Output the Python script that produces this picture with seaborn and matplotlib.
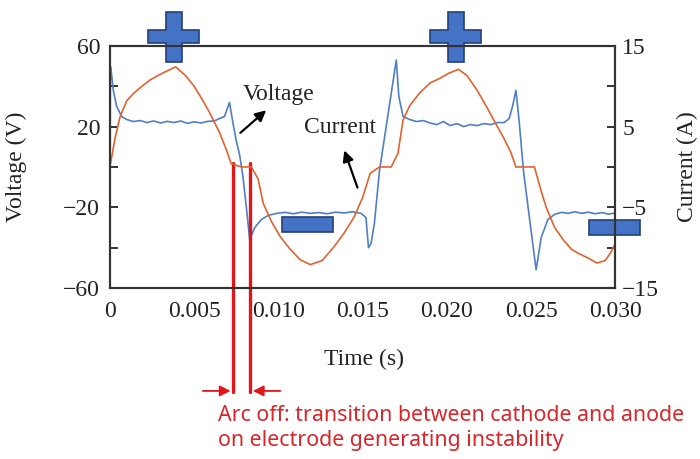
import numpy as np
import pandas as pd
import matplotlib
matplotlib.use("Agg")
import matplotlib.pyplot as plt
from matplotlib.patches import Polygon, Rectangle
import seaborn as sns

# Voltage trace (left axis, V)
time_v = [0, 0.00003, 0.0001, 0.0002, 0.0004, 0.0007, 0.001, 0.0014, 0.0018, 0.0022,
          0.0026, 0.003, 0.0034, 0.0038, 0.0042, 0.0046, 0.005, 0.0054, 0.0058, 0.0062,
          0.0065, 0.0068, 0.0071, 0.0073, 0.0075, 0.0077, 0.0079, 0.0081, 0.0083, 0.0086,
          0.009, 0.0094, 0.0099, 0.0104, 0.0109, 0.0114, 0.0119, 0.0124, 0.0129, 0.0134,
          0.0139, 0.0144, 0.0149, 0.0152, 0.01535, 0.0155, 0.0157, 0.016, 0.0164, 0.0168,
          0.017, 0.01715, 0.0174, 0.0178, 0.0182, 0.0186, 0.019, 0.0194, 0.0198, 0.0202,
          0.0206, 0.021, 0.0214, 0.0218, 0.0222, 0.0226, 0.023, 0.0234, 0.0237, 0.0239,
          0.0241, 0.0243, 0.02455, 0.0249, 0.0253, 0.0256, 0.026, 0.0264, 0.0268, 0.0272,
          0.0276, 0.028, 0.0284, 0.0288, 0.0292, 0.0296, 0.03]
voltage = [-55, 50, 46, 38, 30, 25, 23.5, 22.5, 23, 22,
           22.8, 21.8, 22.6, 22, 22.8, 21.6, 22.4, 21.8, 22.6, 22.8,
           24, 25, 32, 22, 13, 6, -5, -20, -36, -30,
           -26, -24, -23, -22.5, -23.2, -22.4, -23, -22.6, -23.2, -22.4,
           -22.8, -22.2, -23, -25, -40, -38, -28, -2, 20, 42,
           53, 35, 25, 23.5, 22.5, 23, 21.8, 21, 22.5, 20.5,
           21.5, 20, 21, 20.5, 21.5, 21, 22, 22, 24, 30,
           38, 22, -2, -25, -51, -35, -26, -23.5, -22.5, -23,
           -22.2, -23, -22.4, -23.2, -22.6, -23.4, -22.8]

# Current trace (right axis, A)
time_i = [0, 0.0003, 0.0006, 0.001, 0.0014, 0.0019, 0.0024, 0.0031, 0.0039, 0.0045,
          0.005, 0.0055, 0.006, 0.0065, 0.0069, 0.0072, 0.0078, 0.0084, 0.0088, 0.0091,
          0.0096, 0.0101, 0.0107, 0.0113, 0.0119, 0.0126, 0.0133, 0.0139, 0.0145, 0.015,
          0.01545, 0.016, 0.0167, 0.0171, 0.0174, 0.0178, 0.0184, 0.019, 0.0196, 0.0201,
          0.0207, 0.0212, 0.0218, 0.0224, 0.023, 0.0234, 0.0238, 0.0241, 0.0247, 0.0252,
          0.0256, 0.0259, 0.0264, 0.0269, 0.0274, 0.0278, 0.0284, 0.0289, 0.0294, 0.0297,
          0.03]
current = [0, 3.5, 6.2, 8.2, 9.1, 10.0, 10.8, 11.6, 12.4, 11.3,
           10.0, 8.3, 6.4, 4.3, 2.2, 0.4, 0, 0, -1.5, -4.5,
           -6.8, -8.6, -10.2, -11.5, -12.1, -11.6, -9.9, -8.2, -6.2, -3.8,
           -0.8, 0, 0, 1.7, 5.8, 7.6, 9.2, 10.4, 11.0, 11.6,
           12.1, 11.3, 9.5, 7.3, 5.0, 3.5, 1.8, 0, 0, 0,
           -3.0, -5.0, -7.5, -9.0, -10.2, -10.7, -11.3, -11.9, -11.6, -10.7,
           -9.5]

x_ticks = [0, 0.005, 0.010, 0.015, 0.020, 0.025, 0.030]
x_labels = ["0", "0.005", "0.010", "0.015", "0.020", "0.025", "0.030"]
v_ticks = [-60, -40, -20, 0, 20, 40, 60]
v_labels = ["\u221260", "", "\u221220", "", "20", "", "60"]
i_ticks = [-15, -10, -5, 0, 5, 10, 15]
i_labels = ["\u221215", "", "\u22125", "", "5", "", "15"]

df_v = pd.DataFrame({"t": time_v, "V": voltage})
df_i = pd.DataFrame({"t": time_i, "I": current})

sns.set_style("white")
plt.rcParams["font.family"] = ["Liberation Serif", "DejaVu Serif"]

BLUE = "#4F7FC4"
ORANGE = "#E2622E"
RED = "#E3151B"
SHAPE = "#4472C4"
SHAPE_EDGE = "#24407A"
FS = 17

fig = plt.figure(figsize=(7, 4.59), dpi=100)
ax = fig.add_axes([0.157, 0.3725, 0.722, 0.5275])
ax2 = ax.twinx()

sns.lineplot(data=df_v, x="t", y="V", ax=ax, color=BLUE, lw=1.2, estimator=None, sort=False)
sns.lineplot(data=df_i, x="t", y="I", ax=ax2, color=ORANGE, lw=1.2, estimator=None, sort=False)

ax.set_xlim(0, 0.030)
ax.set_ylim(-60, 60)
ax2.set_ylim(-15, 15)
ax.set_xticks(x_ticks)
ax.set_xticklabels(x_labels, fontsize=FS)
ax.set_yticks(v_ticks)
ax.set_yticklabels(v_labels, fontsize=FS)
ax2.set_yticks(i_ticks)
ax2.set_yticklabels(i_labels, fontsize=FS)

ax.tick_params(axis="x", direction="in", length=6, width=1.3, pad=9, colors="#222222")
ax.tick_params(axis="y", direction="in", length=6, width=1.3, pad=7, colors="#222222")
ax2.tick_params(axis="y", direction="in", length=6, width=1.3, pad=5, colors="#222222")
for a in (ax, ax2):
    for s in a.spines.values():
        s.set_color("#333333")
        s.set_linewidth(1.5)

ax.set_xlabel("Time (s)", fontsize=FS, color="#222222")
ax.set_ylabel("Voltage (V)", fontsize=FS, color="#222222")
ax2.set_ylabel("Current (A)", fontsize=FS, color="#222222")
ax.xaxis.set_label_coords(0.503, -0.25)
ax.yaxis.set_label_coords(-0.164, 0.5)
ax2.yaxis.set_label_coords(1.122, 0.5)

# annotations
ax.annotate("", xy=(0.0094, 29), xytext=(0.00762, 16),
            arrowprops=dict(arrowstyle="-|>", color="black", lw=1.6, mutation_scale=16))
ax.text(0.0100, 36, "Voltage", fontsize=FS, ha="center", va="center", color="#222222")
ax.annotate("", xy=(0.01386, 9.5), xytext=(0.01475, -11.5),
            arrowprops=dict(arrowstyle="-|>", color="black", lw=1.6, mutation_scale=16))
ax.text(0.01367, 19.8, "Current", fontsize=FS, ha="center", va="center", color="#222222")


def plus_shape(cx, cy, w, h, bw, bh):
    # outline of a plus sign: w/h full size, bw vertical bar width, bh horizontal bar height
    pts = [(cx - bw / 2, cy + h / 2), (cx + bw / 2, cy + h / 2), (cx + bw / 2, cy + bh / 2),
           (cx + w / 2, cy + bh / 2), (cx + w / 2, cy - bh / 2), (cx + bw / 2, cy - bh / 2),
           (cx + bw / 2, cy - h / 2), (cx - bw / 2, cy - h / 2), (cx - bw / 2, cy - bh / 2),
           (cx - w / 2, cy - bh / 2), (cx - w / 2, cy + bh / 2), (cx - bw / 2, cy + bh / 2)]
    return Polygon(pts, closed=True, facecolor=SHAPE, edgecolor=SHAPE_EDGE, lw=1.2,
                   clip_on=False, zorder=5)


for cx in (0.0038, 0.02052):
    ax.add_patch(plus_shape(cx, 64.6, 0.00303, 24.8, 0.00095, 6.6))
for cx, cy in ((0.01173, -28.7), (0.02994, -30.0)):
    ax.add_patch(Rectangle((cx - 0.0015, cy - 3.7), 0.003, 7.4, facecolor=SHAPE,
                           edgecolor=SHAPE_EDGE, lw=1.2, clip_on=False, zorder=5))

# arc-off markers
for tx in (0.00733, 0.00832):
    ax.plot([tx, tx], [2, -111.5], color=RED, lw=2.4, clip_on=False, zorder=6)
ax.annotate("", xy=(0.00733, -111), xytext=(0.00535, -111), annotation_clip=False,
            arrowprops=dict(arrowstyle="-|>", color=RED, lw=1.3, mutation_scale=16))
ax.annotate("", xy=(0.00832, -111), xytext=(0.01028, -111), annotation_clip=False,
            arrowprops=dict(arrowstyle="-|>", color=RED, lw=1.3, mutation_scale=16))

fig.text(0.311, 0.118, "Arc off: transition between cathode and anode\non electrode generating instability",
         fontsize=15.4, color="#D9262B", ha="left", va="top", linespacing=1.25,
         family=["Noto Sans", "DejaVu Sans"])

fig.savefig("out.png", dpi=100)
